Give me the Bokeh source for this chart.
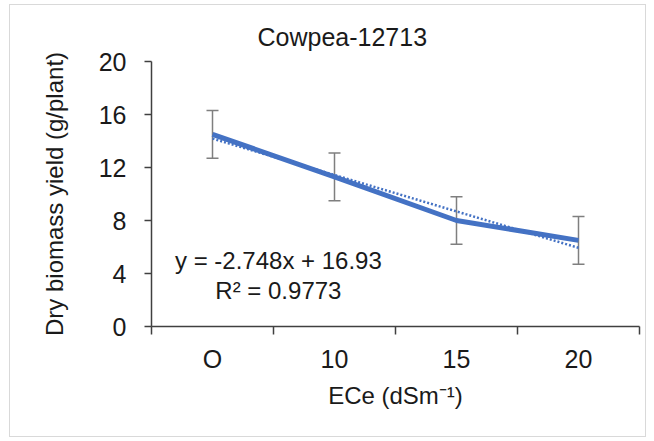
from bokeh.plotting import figure
from bokeh.models import Range1d, FixedTicker, Whisker, ColumnDataSource, Label, TeeHead
from bokeh.embed import file_html
from bokeh.resources import INLINE

# Dry biomass yield of cowpea line 12713 at four salinity levels
ece_labels = ["O", "10", "15", "20"]
biomass_mean = [14.5, 11.3, 8.0, 6.5]
biomass_err = [1.8, 1.8, 1.8, 1.8]
y_ticks = [0, 4, 8, 12, 16, 20]

# Linear trendline as reported on the chart
trend_slope = -2.748
trend_intercept = 16.93
r_squared = 0.9773

positions = list(range(1, len(ece_labels) + 1))
trend = [trend_slope * x + trend_intercept for x in positions]
boundaries = [x - 0.5 for x in positions] + [positions[-1] + 0.5]

src = ColumnDataSource(dict(
    x=positions,
    y=biomass_mean,
    upper=[m + e for m, e in zip(biomass_mean, biomass_err)],
    lower=[m - e for m, e in zip(biomass_mean, biomass_err)],
))

FONT = "Liberation Sans"
AXIS_COLOR = "#404040"
TEXT_COLOR = "#1a1a1a"
BLUE = "#4472C4"

p = figure(
    width=637, height=433,
    x_range=Range1d(boundaries[0], boundaries[-1]),
    y_range=Range1d(y_ticks[0], y_ticks[-1]),
    output_backend="svg", toolbar_location=None,
    min_border_left=141, min_border_right=8,
    min_border_top=56, min_border_bottom=112,
)
p.styles = {"border": "1px solid #d9d9d9"}
p.margin = (4, 0, 0, 9)
p.outline_line_color = None
p.xgrid.visible = False
p.ygrid.visible = False

# title, placed over the middle of the whole chart rather than the plot frame
p.title.text = "Cowpea-12713"
p.title.align = "left"
p.title.offset = 106
p.title.standoff = 22
p.title.text_font = FONT
p.title.text_font_size = "25px"
p.title.text_font_style = "normal"
p.title.text_color = TEXT_COLOR

# y axis
p.yaxis.ticker = FixedTicker(ticks=y_ticks)
p.yaxis.axis_label = "Dry biomass yield (g/plant)"
p.yaxis.major_tick_out = 7
p.yaxis.major_tick_in = 0
p.yaxis.major_label_standoff = 18
p.yaxis.axis_label_standoff = 28

# x axis: labels at category centres, tick marks between categories
p.xaxis.ticker = FixedTicker(ticks=positions, minor_ticks=boundaries)
p.xaxis.major_label_overrides = {x: lab for x, lab in zip(positions, ece_labels)}
p.xaxis.axis_label = "ECe (dSm\u207b\u00b9)"
p.xaxis.major_tick_out = 0
p.xaxis.major_tick_in = 0
p.xaxis.minor_tick_out = 8
p.xaxis.minor_tick_in = 0
p.xaxis.major_label_standoff = 10
p.xaxis.axis_label_standoff = 6

for ax in (p.xaxis, p.yaxis):
    ax.axis_line_color = AXIS_COLOR
    ax.axis_line_width = 1.5
    ax.major_tick_line_color = AXIS_COLOR
    ax.major_tick_line_width = 1.5
    ax.minor_tick_line_width = 1.5
    ax.major_label_text_font = FONT
    ax.major_label_text_font_size = "25px"
    ax.major_label_text_color = TEXT_COLOR
    ax.axis_label_text_font = FONT
    ax.axis_label_text_font_size = "24px"
    ax.axis_label_text_font_style = "normal"
    ax.axis_label_text_color = TEXT_COLOR
p.xaxis.minor_tick_line_color = AXIS_COLOR
p.yaxis.minor_tick_line_color = None

# error bars
err = Whisker(
    base="x", upper="upper", lower="lower", source=src,
    line_color="#7f7f7f", line_width=1.5, level="underlay",
    upper_head=TeeHead(size=12, line_color="#7f7f7f", line_width=1.5),
    lower_head=TeeHead(size=12, line_color="#7f7f7f", line_width=1.5),
)
p.add_layout(err)

# mean yield line and linear trendline
p.line("x", "y", source=src, line_color=BLUE, line_width=5)
p.line(positions, trend, line_color=BLUE, line_width=2.5, line_dash="2 2")

# trendline equation
p.add_layout(Label(x=1.54, y=4.95, text=f"y = {trend_slope}x + {trend_intercept}",
                   text_align="center", text_baseline="middle", text_font=FONT,
                   text_font_size="24px", text_color=TEXT_COLOR))
p.add_layout(Label(x=1.54, y=2.75, text=f"R\u00b2 = {r_squared}",
                   text_align="center", text_baseline="middle", text_font=FONT,
                   text_font_size="24px", text_color=TEXT_COLOR))

open("out.html", "w").write(file_html(p, INLINE))
